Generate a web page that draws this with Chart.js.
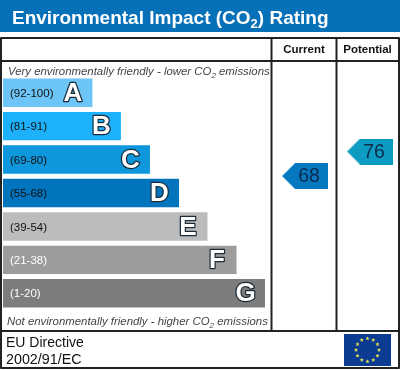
<!DOCTYPE html>
<html>
<head>
<meta charset="utf-8">
<script src="https://cdn.jsdelivr.net/npm/chart.js@4"></script>
<style>
  html, body { margin: 0; padding: 0; background: #fff; }
  canvas { display: block; }
</style>
</head>
<body>
<canvas id="ratingChart" width="400" height="370"></canvas>
<script>
const bandLetters = ['A', 'B', 'C', 'D', 'E', 'F', 'G'];
const bandRanges = ['(92-100)', '(81-91)', '(69-80)', '(55-68)', '(39-54)', '(21-38)', '(1-20)'];
const bandLengths = [3.11, 4.1, 5.11, 6.12, 7.11, 8.12, 9.11];
const bandColors = ['#6cc5f6', '#1db1fc', '#0e97dc', '#0274bd', '#bcbcbc', '#9c9c9c', '#7d7d7d'];
const rangeColors = ['#111', '#111', '#111', '#111', '#111', '#fff', '#fff'];
const columnNames = ['Current', 'Potential'];
const ratingValues = [68, 76];
const ratingColors = ['#0678bf', '#0d9bc2'];

const SANS = '"Liberation Sans", Arial, sans-serif';
const UNIT = 28.75;
const COLUMN_X = [305, 370];

function arrowImage(color) {
    const c = document.createElement('canvas');
    c.width = 46;
    c.height = 26;
    const g = c.getContext('2d');
    g.fillStyle = color;
    g.beginPath();
    g.moveTo(0, 13);
    g.lineTo(13, 0);
    g.lineTo(46, 0);
    g.lineTo(46, 26);
    g.lineTo(13, 26);
    g.closePath();
    g.fill();
    return c;
}

// text with a small lowered "2" after the CO
function co2Text(g, before, after, x, y, size, subSize, drop) {
    g.textAlign = 'left';
    g.fillText(before, x, y);
    x += g.measureText(before).width;
    const font = g.font;
    g.font = font.replace(size + 'px', subSize + 'px');
    g.fillText('2', x, y + drop);
    x += g.measureText('2').width;
    g.font = font;
    g.fillText(after, x, y);
}

function drawStar(g, cx, cy, r) {
    g.beginPath();
    for (let i = 0; i < 10; i++) {
        const a = -Math.PI / 2 + i * Math.PI / 5;
        const d = i % 2 ? r * 0.42 : r;
        g.lineTo(cx + d * Math.cos(a), cy + d * Math.sin(a));
    }
    g.closePath();
    g.fill();
}

const ratingPlugin = {
    id: 'ratingPlugin',
    beforeDraw(chart) {
        const g = chart.ctx;
        g.save();
        g.fillStyle = '#0670b8';
        g.fillRect(0, 0, 400, 32);
        g.fillStyle = '#fff';
        g.font = 'bold 19px ' + SANS;
        g.textBaseline = 'alphabetic';
        co2Text(g, 'Environmental Impact (CO', ') Rating', 12, 24, 19, 13, 4);
        g.restore();
    },
    afterDatasetsDraw(chart) {
        const g = chart.ctx;
        const bars = chart.getDatasetMeta(0).data;
        g.save();
        g.textBaseline = 'middle';

        bars.forEach((bar, i) => {
            g.textAlign = 'left';
            g.font = '11.5px ' + SANS;
            g.fillStyle = rangeColors[i];
            g.fillText(bandRanges[i], 10, bar.y + 1);

            g.textAlign = 'center';
            g.font = 'bold 26px ' + SANS;
            g.lineWidth = 2.5;
            g.lineJoin = 'round';
            g.strokeStyle = '#1c2b38';
            g.fillStyle = '#fff';
            g.strokeText(bandLetters[i], bar.x - 19.5, bar.y + 1);
            g.fillText(bandLetters[i], bar.x - 19.5, bar.y + 1);
        });

        // rating values sit on the arrow points
        ratingValues.forEach((v, i) => {
            const p = chart.getDatasetMeta(i + 1).data[0];
            g.textAlign = 'center';
            g.font = '19.5px ' + SANS;
            g.fillStyle = '#0b2a4a';
            g.fillText(String(v), p.x + 4, p.y + 1);
        });

        g.textBaseline = 'alphabetic';
        g.fillStyle = '#444';
        g.font = 'italic 11.4px ' + SANS;
        co2Text(g, 'Very environmentally friendly - lower CO', ' emissions', 8, 75, 11.4, 8, 3);
        co2Text(g, 'Not environmentally friendly - higher CO', ' emissions', 7, 325, 11.4, 8, 3);

        // table frame
        g.strokeStyle = '#222';
        g.lineWidth = 2;
        g.beginPath();
        g.rect(1, 38, 398, 330);
        g.moveTo(1, 61); g.lineTo(399, 61);
        g.moveTo(1, 331); g.lineTo(399, 331);
        g.moveTo(271.5, 38); g.lineTo(271.5, 331);
        g.moveTo(336.5, 38); g.lineTo(336.5, 331);
        g.stroke();

        g.fillStyle = '#111';
        g.font = 'bold 11.5px ' + SANS;
        g.textAlign = 'center';
        g.fillText(columnNames[0], 304, 53);
        g.fillText(columnNames[1], 367.5, 53);

        g.textAlign = 'left';
        g.font = '14px ' + SANS;
        g.fillText('EU Directive', 6, 347);
        g.font = '14.3px ' + SANS;
        g.fillText('2002/91/EC', 6, 364);

        // EU flag
        g.fillStyle = '#0c3b94';
        g.fillRect(344, 334, 47, 32);
        g.fillStyle = '#e8e84a';
        for (let i = 0; i < 12; i++) {
            const a = i * Math.PI / 6;
            drawStar(g, 367.5 + 11.5 * Math.sin(a), 350 - 11.5 * Math.cos(a), 2.2);
        }
        g.restore();
    }
};

new Chart(document.getElementById('ratingChart'), {
    type: 'bar',
    plugins: [ratingPlugin],
    data: {
        labels: bandLetters,
        datasets: [
            {
                data: bandLengths,
                backgroundColor: bandColors,
                barPercentage: 0.85,
                categoryPercentage: 1,
                grouped: false,
                xAxisID: 'x',
                yAxisID: 'y'
            },
            ...ratingValues.map((v, i) => ({
                type: 'scatter',
                data: [{ x: (COLUMN_X[i] - 3) / UNIT, y: v }],
                pointStyle: arrowImage(ratingColors[i]),
                xAxisID: 'x',
                yAxisID: 'rating',
                indexAxis: 'x'
            }))
        ]
    },
    options: {
        indexAxis: 'y',
        responsive: false,
        animation: false,
        layout: { autoPadding: false, padding: { left: 3, right: 3, top: 76, bottom: 60 } },
        plugins: { legend: { display: false }, tooltip: { enabled: false } },
        scales: {
            x: { type: 'linear', display: false, min: 0, max: 13.7 },
            y: { type: 'category', display: false, offset: true },
            rating: { axis: 'y', type: 'linear', display: false, offset: false, min: 24.2, max: 100.7 }
        }
    }
});
</script>
</body>
</html>
